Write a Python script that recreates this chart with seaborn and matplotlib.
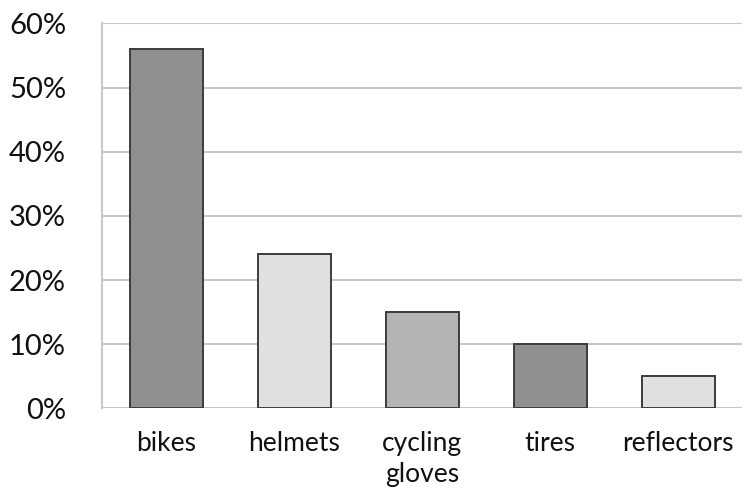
import pandas as pd
import numpy as np
import matplotlib.pyplot as plt
import seaborn as sns

categories = ['bikes', 'helmets', 'cycling\ngloves', 'tires', 'reflectors']
shares = [56, 24, 15, 10, 5]
bar_colors = ['#8f8f8f', '#e0e0e0', '#b4b4b4', '#8f8f8f', '#e0e0e0']
y_ticks = [0, 10, 20, 30, 40, 50, 60]
y_labels = ['0%', '10%', '20%', '30%', '40%', '50%', '60%']

df = pd.DataFrame({'item': categories, 'share': shares})

sns.set_style('white')
plt.rcParams['font.family'] = ['Lato', 'DejaVu Sans']

fig, ax = plt.subplots(figsize=(7.46, 4.98), dpi=100)
fig.subplots_adjust(left=0.137, right=0.995, top=0.953, bottom=0.18)

sns.barplot(data=df, x='item', y='share', hue='item', palette=bar_colors,
            legend=False, width=0.57, edgecolor='#3c3c3c', linewidth=1.4,
            saturation=1, ax=ax, zorder=3)

ax.set_ylim(0, 60)
ax.set_xlim(-0.5, 4.5)
ax.set_yticks(y_ticks)
ax.set_yticklabels(y_labels)
ax.yaxis.grid(True, color='#c8c8c8', linewidth=1.5, zorder=0)
ax.set_axisbelow(True)
ax.set_xlabel('')
ax.set_ylabel('')

for s in ['top', 'right', 'bottom']:
    ax.spines[s].set_visible(False)
ax.spines['left'].set_color('#c8c8c8')
ax.spines['left'].set_linewidth(1.5)

ax.tick_params(axis='both', length=0, colors='#111111')
ax.tick_params(axis='y', pad=26, labelsize=21)
ax.tick_params(axis='x', pad=16, labelsize=19)
for lab in ax.get_xticklabels():
    lab.set_linespacing(1.3)

fig.savefig('out.png', dpi=100)
